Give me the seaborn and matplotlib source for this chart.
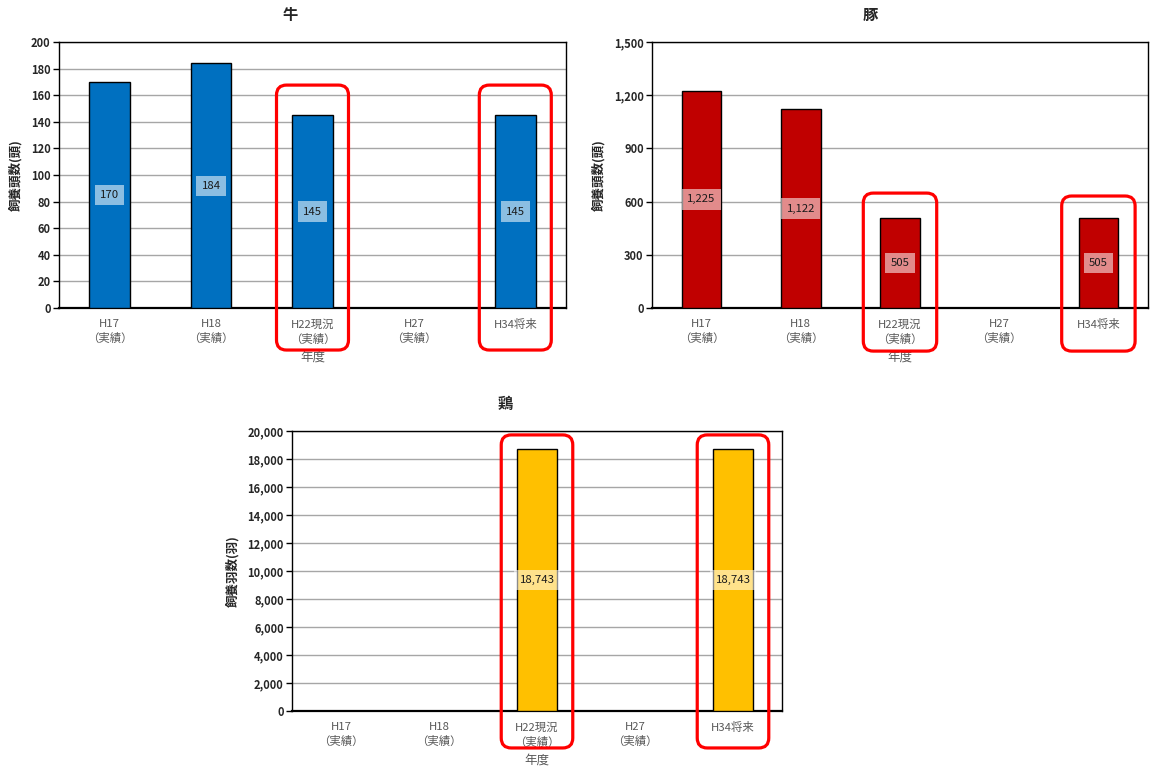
import numpy as np
import pandas as pd
import matplotlib
matplotlib.use("Agg")
import matplotlib.pyplot as plt
import seaborn as sns
from matplotlib.patches import FancyBboxPatch
from matplotlib.ticker import FuncFormatter, MultipleLocator

# ---- data ---------------------------------------------------------------
years = ["H17\n（実績）", "H18\n（実績）", "H22現況\n（実績）", "H27\n（実績）", "H34将来"]
cattle = [170, 184, 145, np.nan, 145]
pigs = [1225, 1122, 505, np.nan, 505]
chickens = [np.nan, np.nan, 18743, np.nan, 18743]

titles = ["牛", "豚", "鶏"]
ylabels = ["飼養頭数(頭)", "飼養頭数(頭)", "飼養羽数(羽)"]
colors = ["#0070C0", "#C00000", "#FFC000"]
ymax = [200, 1500, 20000]
ystep = [20, 300, 2000]
highlight = ["H22現況\n（実績）", "H34将来"]

sns.set_theme(style="white")
plt.rcParams["font.family"] = ["Noto Sans CJK JP", "DejaVu Sans"]

W, H, DPI = 1151, 773, 100
fig = plt.figure(figsize=(W / DPI, H / DPI), dpi=DPI)


def px_axes(left, right, top, bottom):
    return fig.add_axes([left / W, 1 - bottom / H, (right - left) / W, (bottom - top) / H])


axes = [
    px_axes(59, 566, 42, 308),
    px_axes(652, 1148, 42, 308),
    px_axes(292, 782, 431, 711),
]

# title horizontal position (axes fraction)
title_x = [0.456, 0.44, 0.435]

# highlight frame extents: (top, bottom) as axes fraction, half-width in categories
frames = [
    [(0.838, -0.158, 0.355), (0.838, -0.158, 0.355)],
    [(0.432, -0.162, 0.37), (0.421, -0.162, 0.37)],
    [(0.986, -0.132, 0.365), (0.986, -0.132, 0.365)],
]

series = [cattle, pigs, chickens]
for i, ax in enumerate(axes):
    df = pd.DataFrame({"year": years, "value": series[i]}).dropna()
    sns.barplot(data=df, x="year", y="value", order=years, color=colors[i],
                saturation=1, width=0.4, edgecolor="black", linewidth=1.0, ax=ax, zorder=3)
    ax.set_ylim(0, ymax[i])
    ax.set_xlim(-0.5, len(years) - 0.5)
    ax.yaxis.set_major_locator(MultipleLocator(ystep[i]))
    ax.yaxis.set_major_formatter(FuncFormatter(lambda v, p: f"{int(v):,}"))
    ax.grid(axis="y", color="#a6a6a6", linewidth=1.0, zorder=0)
    ax.set_axisbelow(True)
    for s in ax.spines.values():
        s.set_color("black")
        s.set_linewidth(1.0)
    ax.spines["bottom"].set_linewidth(1.6)
    ax.tick_params(axis="y", which="major", length=4, width=1, color="black",
                   direction="out", left=True, labelsize=8, pad=2)
    ax.tick_params(axis="x", length=0, labelsize=8.2, labelcolor="#595959", pad=8)
    for lab in ax.get_yticklabels():
        lab.set_fontweight("bold")
    for lab in ax.get_xticklabels():
        lab.set_linespacing(1.45)
    ax.set_ylabel(ylabels[i], fontsize=9, fontweight="bold", labelpad=6)
    ax.set_xlabel("年度", fontsize=9, color="#595959", labelpad=4)
    ax.set_title(titles[i], fontsize=11, fontweight="bold", pad=16, x=title_x[i])

    # value labels centred in each bar
    for xi, v in enumerate(series[i]):
        if np.isnan(v):
            continue
        ax.text(xi, v / 2, f"{int(v):,}", ha="center", va="center", fontsize=8.2,
                color="#1a1a1a", zorder=5,
                bbox=dict(boxstyle="square,pad=0.45", fc="white", ec="none", alpha=0.55))

fig.canvas.draw()

# rounded red frames around the current and projected years
for i, ax in enumerate(axes):
    for (top, bot, hw), name in zip(frames[i], highlight):
        xi = years.index(name)
        x0, _ = ax.transData.transform((xi - hw, 0))
        x1, _ = ax.transData.transform((xi + hw, 0))
        _, y0 = ax.transAxes.transform((0, bot))
        _, y1 = ax.transAxes.transform((0, top))
        rad = 10
        box = FancyBboxPatch((x0 + rad, y0 + rad), (x1 - x0) - 2 * rad, (y1 - y0) - 2 * rad,
                             boxstyle=f"round,pad={rad},rounding_size={rad}",
                             transform=None, fill=False, edgecolor="#FF0000",
                             linewidth=2.3, zorder=10)
        fig.add_artist(box)

fig.savefig("out.png", dpi=DPI)
